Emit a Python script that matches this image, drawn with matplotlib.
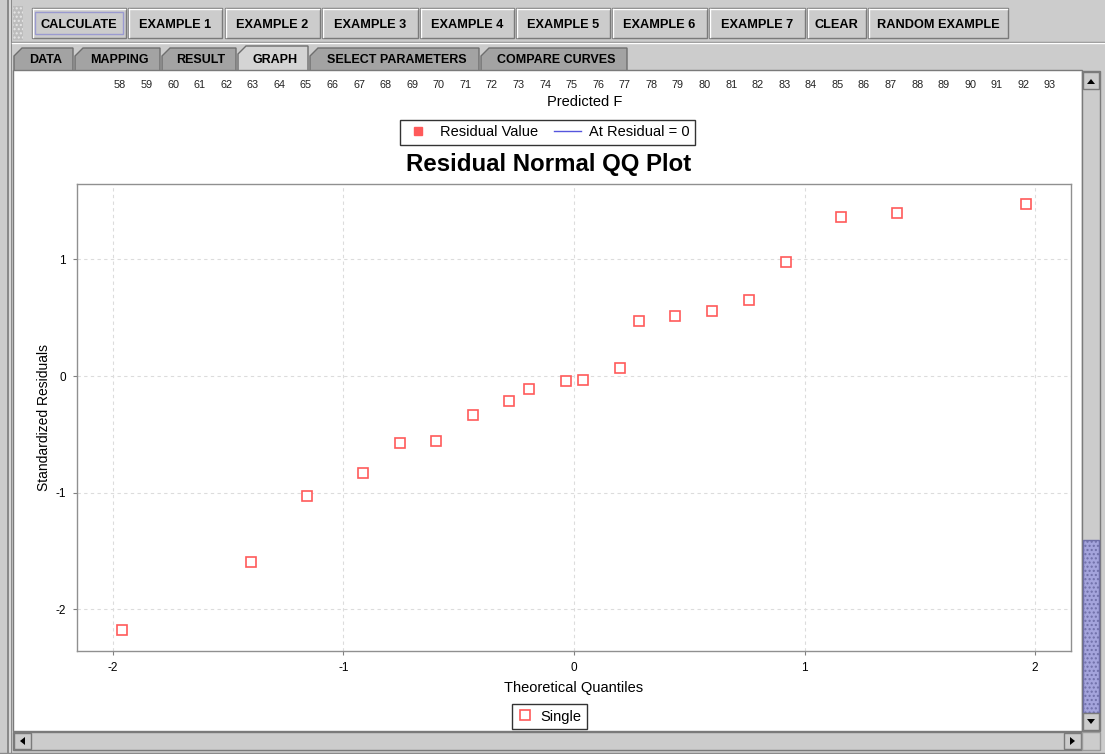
import matplotlib
matplotlib.use('Agg')
import matplotlib.pyplot as plt
from matplotlib.patches import Rectangle, Polygon
from matplotlib.lines import Line2D

# Data
theoretical_q = [-1.96, -1.40, -1.16, -0.915, -0.755, -0.60, -0.44, -0.28, -0.195, -0.035,
                 0.04, 0.20, 0.28, 0.44, 0.60, 0.76, 0.92, 1.16, 1.40, 1.96]
std_residuals = [-2.18, -1.59, -1.03, -0.83, -0.57, -0.56, -0.33, -0.21, -0.11, -0.045,
                 -0.035, 0.07, 0.47, 0.51, 0.56, 0.65, 0.98, 1.36, 1.40, 1.47]
predicted_ticks = list(range(58, 94))

buttons = ['CALCULATE', 'EXAMPLE 1', 'EXAMPLE 2', 'EXAMPLE 3', 'EXAMPLE 4', 'EXAMPLE 5',
           'EXAMPLE 6', 'EXAMPLE 7', 'CLEAR', 'RANDOM EXAMPLE']
button_x = [(32, 126), (128, 222), (225, 320), (322, 418), (420, 514), (516, 610),
            (612, 707), (709, 805), (807, 866), (868, 1008)]
tabs = ['DATA', 'MAPPING', 'RESULT', 'GRAPH', 'SELECT PARAMETERS', 'COMPARE CURVES']
tab_x = [(14, 73), (75, 160), (162, 236), (238, 308), (310, 479), (481, 627)]
selected_tab = 'GRAPH'

W, H = 1105, 754
plt.rcParams['font.family'] = ['Liberation Sans', 'DejaVu Sans']
plt.rcParams['axes.unicode_minus'] = False

fig = plt.figure(figsize=(W / 100, H / 100), dpi=100)
fig.patch.set_facecolor('#cccccc')


def fx(px):
    return px / W


def fy(py):
    return 1 - py / H


# ---- window chrome drawn in a pixel-space axes ----
ui = fig.add_axes([0, 0, 1, 1], zorder=0)
ui.set_xlim(0, W)
ui.set_ylim(H, 0)
ui.axis('off')

# left border and grip
ui.add_patch(Rectangle((7, 0), 5, H, facecolor='#8a8a8a', edgecolor='none'))
ui.add_patch(Rectangle((8.5, 0), 2, H, facecolor='#d8d8d8', edgecolor='none'))
ui.add_patch(Rectangle((13, 6), 10, 34, facecolor='#bdbdbd', edgecolor='#e6e6e6', hatch='....', lw=0))

# toolbar buttons
for name, (x0, x1) in zip(buttons, button_x):
    ui.add_patch(Rectangle((x0, 8), x1 - x0, 30, facecolor='#cccccc', edgecolor='#7a7a7a', lw=1))
    ui.plot([x0 + 1, x1 - 1], [9, 9], color='white', lw=1)
    ui.plot([x0 + 1, x0 + 1], [9, 37], color='white', lw=1)
    if name == 'CALCULATE':
        ui.add_patch(Rectangle((x0 + 3, 12), x1 - x0 - 6, 22, facecolor='none', edgecolor='#9a9ad0', lw=1))
    ui.text((x0 + x1) / 2, 24.5, name, ha='center', va='center', fontsize=9.2, fontweight='bold',
            color='black')

ui.plot([12, W], [41.5, 41.5], color='#8a8a8a', lw=1)
ui.plot([12, W], [42.5, 42.5], color='white', lw=1)

# tabs
for name, (x0, x1) in zip(tabs, tab_x):
    sel = name == selected_tab
    top = 46 if sel else 48
    face = '#d4d4d4' if sel else '#a3a3a3'
    ui.add_patch(Polygon([(x0, 71), (x0, top + 8), (x0 + 8, top), (x1, top), (x1, 71)],
                         closed=True, facecolor=face, edgecolor='#6e6e6e', lw=1))
    ui.text((x0 + x1) / 2 + 2, 60, name, ha='center', va='center', fontsize=9, fontweight='bold')

# white content panel
ui.add_patch(Rectangle((13, 70), 1069, 661, facecolor='white', edgecolor='#7a7a7a', lw=1))

# vertical scrollbar
ui.add_patch(Rectangle((1082, 71), 18, 660, facecolor='#cccccc', edgecolor='#7a7a7a', lw=1))
ui.add_patch(Rectangle((1083, 72), 16, 17, facecolor='#cccccc', edgecolor='#7a7a7a', lw=1))
ui.add_patch(Polygon([(1087, 84), (1095, 84), (1091, 79)], facecolor='black', edgecolor='none'))
ui.add_patch(Rectangle((1083, 540), 16, 173, facecolor='#a4a4dc', edgecolor='#6f6fa8', lw=1, hatch='....'))
ui.add_patch(Rectangle((1083, 713), 16, 17, facecolor='#cccccc', edgecolor='#7a7a7a', lw=1))
ui.add_patch(Polygon([(1087, 719), (1095, 719), (1091, 724)], facecolor='black', edgecolor='none'))

# horizontal scrollbar
ui.add_patch(Rectangle((13, 732), 1069, 18, facecolor='#cccccc', edgecolor='#7a7a7a', lw=1))
ui.add_patch(Rectangle((14, 733), 17, 16, facecolor='#cccccc', edgecolor='#7a7a7a', lw=1))
ui.add_patch(Polygon([(20, 741), (25, 737), (25, 745)], facecolor='black', edgecolor='none'))
ui.add_patch(Rectangle((1064, 733), 17, 16, facecolor='#cccccc', edgecolor='#7a7a7a', lw=1))
ui.add_patch(Polygon([(1075, 741), (1070, 737), (1070, 745)], facecolor='black', edgecolor='none'))
ui.add_patch(Rectangle((1082, 732), 18, 18, facecolor='#cccccc', edgecolor='#9a9a9a', lw=1))
ui.plot([0, W], [752.5, 752.5], color='#8a8a8a', lw=1)

# ---- top axis of the (scrolled) Predicted F plot ----
top_ax = fig.add_axes([fx(120), fy(77), fx(930), 0.0001], zorder=2)
top_ax.set_xlim(predicted_ticks[0], predicted_ticks[-1])
top_ax.set_xticks(predicted_ticks)
top_ax.set_xticklabels([str(t) for t in predicted_ticks], fontsize=7.8, color='#222222')
top_ax.tick_params(axis='x', length=0, pad=2)
top_ax.set_yticks([])
for s in top_ax.spines.values():
    s.set_visible(False)
top_ax.patch.set_visible(False)
top_ax.set_xlabel('Predicted F', fontsize=10.5, labelpad=3.5)

# ---- QQ plot ----
ax = fig.add_axes([fx(77), fy(651), fx(994), (651 - 184) / H], zorder=2)
red = '#ff5a5a'
ax.plot(theoretical_q, std_residuals, linestyle='none', marker='s', markersize=6.5,
        markerfacecolor='white', markeredgecolor=red, markeredgewidth=1.2, zorder=3)
ax.set_xlim(-2.156, 2.156)
ax.set_ylim(-2.356, 1.645)
ax.set_xticks([-2, -1, 0, 1, 2])
ax.set_yticks([-2, -1, 0, 1])
ax.tick_params(length=3, width=0.8, color='#808080', labelsize=8.5, pad=5)
ax.grid(True, color='#dcdcdc', linestyle=(0, (3, 3)), lw=0.8)
for s in ax.spines.values():
    s.set_color('#909090')
    s.set_linewidth(1)
ax.set_xlabel('Theoretical Quantiles', fontsize=10.5, labelpad=5)
ax.set_ylabel('Standardized Residuals', fontsize=10, labelpad=3)

fig.text(fx(549), fy(164), 'Residual Normal QQ Plot', ha='center', va='center',
         fontsize=17.3, fontweight='bold')

# legends
top_handles = [Line2D([], [], linestyle='none', marker='s', markersize=6, color=red),
               Line2D([], [], color='#5555dd', lw=1)]
leg1 = fig.legend(top_handles, ['Residual Value', 'At Residual = 0'], ncol=2, loc='center',
                  bbox_to_anchor=(fx(547.5), fy(132.5)), fontsize=10.5, frameon=True, fancybox=False,
                  edgecolor='black', handlelength=1.8, columnspacing=1.1, handletextpad=0.6,
                  borderpad=0.35)
leg1.get_frame().set_linewidth(1)

bot_handles = [Line2D([], [], linestyle='none', marker='s', markersize=6.5,
                      markerfacecolor='white', markeredgecolor=red, markeredgewidth=1.2)]
leg2 = fig.legend(bot_handles, ['Single'], loc='center', bbox_to_anchor=(fx(549.5), fy(716.5)),
                  fontsize=10.5, frameon=True, fancybox=False, edgecolor='black',
                  handlelength=1.0, handletextpad=0.5, borderpad=0.4)
leg2.get_frame().set_linewidth(1)

fig.savefig('out.png', dpi=100, facecolor=fig.get_facecolor())
